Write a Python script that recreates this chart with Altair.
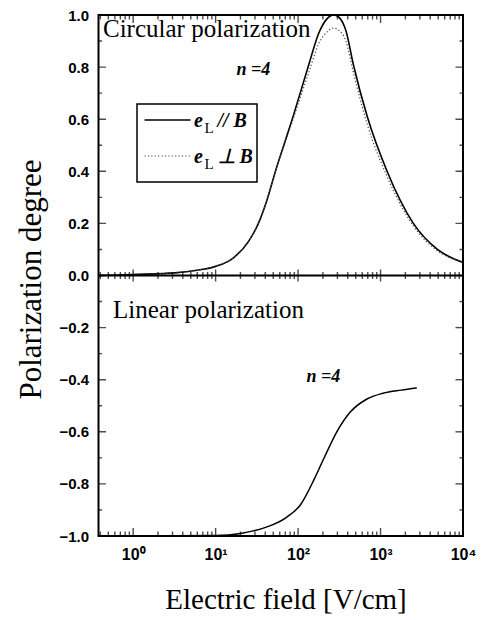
import altair as alt
import pandas as pd

# ---------------- data ----------------
x_min, x_max = 0.38, 10000

circ_E = [0.38, 1, 3.2, 6.5, 10, 16, 25, 33, 42, 52, 87, 135, 178, 224, 270,
          316, 380, 468, 690, 1200, 2500, 4900, 10000]
circ_par = [0.0, 0.004, 0.010, 0.022, 0.035, 0.065, 0.13, 0.20, 0.29, 0.39, 0.61,
            0.81, 0.93, 0.985, 1.0, 0.99, 0.94, 0.81, 0.61, 0.40, 0.20, 0.10, 0.05]
circ_perp = [0.0, 0.004, 0.010, 0.022, 0.035, 0.065, 0.13, 0.20, 0.29, 0.39, 0.60,
             0.78, 0.89, 0.935, 0.95, 0.94, 0.90, 0.78, 0.58, 0.38, 0.19, 0.095, 0.05]

lin_E = [1, 10, 20, 42, 71, 107, 158, 214, 295, 427, 676, 1070, 1780, 2750]
lin_P = [-1.0, -0.998, -0.99, -0.965, -0.93, -0.88, -0.78, -0.69, -0.60, -0.525,
         -0.475, -0.452, -0.44, -0.432]

x_major = [1, 10, 100, 1000, 10000]
x_labels = ["10⁰", "10¹", "10²", "10³", "10⁴"]
minor_mult = [2, 3, 4, 5, 6, 7, 8, 9]
decades = [0.1, 1, 10, 100, 1000]
x_minor = [round(m * d, 4) for d in decades for m in minor_mult if x_min <= m * d <= x_max]

y_major = [-1.0, -0.8, -0.6, -0.4, -0.2, 0.0, 0.2, 0.4, 0.6, 0.8, 1.0]
y_minor = [-0.9, -0.7, -0.5, -0.3, -0.1, 0.1, 0.3, 0.5, 0.7, 0.9]

title_circ = "Circular polarization"
title_lin = "Linear polarization"
n_label = "n =4"
legend_par = "// B"
legend_perp = "⊥ B"

# ---------------- layout ----------------
W, H = 364.5, 521
SERIF = "Liberation Serif"
SANS = "Liberation Sans"

xscale = alt.Scale(type="log", domain=[x_min, x_max], nice=False)
yscale = alt.Scale(domain=[-1, 1], nice=False)

label_expr = " : ".join(
    f"datum.value == {v} ? '{l}'" for v, l in zip(x_major, x_labels)
) + " : ''"

xaxis = alt.Axis(values=x_major, labelExpr=label_expr, grid=False, ticks=False,
                 domain=False, labelFont=SANS, labelFontSize=16, labelFontWeight="bold",
                 labelPadding=10, labelFlush=False, labelOverlap=False, labelColor="black",
                 title="Electric field [V/cm]", titleFont=SERIF, titleFontSize=29,
                 titleFontWeight="normal", titleColor="black", titleX=187, titleY=72,
                 titleAlign="center", titleBaseline="alphabetic", orient="bottom")
yaxis = alt.Axis(values=y_major, format=".1f", grid=False, ticks=False, domain=False,
                 labelFont=SANS, labelFontSize=15, labelFontWeight="bold",
                 labelPadding=10, labelColor="black", labelOverlap=False,
                 title="Polarization degree", titleFont=SERIF, titleFontSize=31,
                 titleFontWeight="normal", titleColor="black", titleAngle=270,
                 titleX=-58, titleY=264, titleAlign="center", titleBaseline="alphabetic",
                 orient="left")


def X(field):
    return alt.X(field, type="quantitative", scale=xscale, axis=xaxis)


def Y(field):
    return alt.Y(field, type="quantitative", scale=yscale, axis=yaxis)


df_c = pd.DataFrame({"E": circ_E, "par": circ_par, "perp": circ_perp})
df_l = pd.DataFrame({"E": lin_E, "P": lin_P})

solid = alt.Chart(df_c).mark_line(color="black", strokeWidth=1.6, interpolate="monotone",
                                  clip=True).encode(x=X("E"), y=Y("par"))
dotted = alt.Chart(df_c).mark_line(color="#444", strokeWidth=1.2, strokeDash=[1.2, 2.2],
                                   interpolate="monotone", clip=True).encode(
    x=X("E"), y=Y("perp"))
linear = alt.Chart(df_l).mark_line(color="black", strokeWidth=1.5, interpolate="monotone",
                                   clip=True).encode(x=X("E"), y=Y("P"))
zero = alt.Chart(pd.DataFrame({"y": [0.0]})).mark_rule(color="black", strokeWidth=2).encode(
    y=Y("y"))


def xticks(vals, at, length):
    df = pd.DataFrame({"E": vals, "at": [at] * len(vals)})
    return alt.Chart(df).mark_tick(
        orient="vertical", clip=True, color="black", thickness=1.4).encode(
        x=X("E"), y=Y("at"), size=alt.value(length))


def yticks(vals, at, length):
    df = pd.DataFrame({"v": vals, "at": [at] * len(vals)})
    return alt.Chart(df).mark_tick(
        orient="horizontal", clip=True, color="black", thickness=1.4).encode(
        y=Y("v"), x=X("at"), size=alt.value(length))


tick_layers = [
    xticks(x_major, 1.0, 16), xticks(x_minor, 1.0, 9),
    xticks(x_major, -1.0, 16), xticks(x_minor, -1.0, 9),
    xticks(x_major, 0.0, 12), xticks(x_minor, 0.0, 7),
    yticks(y_major, x_min, 15), yticks(y_minor, x_min, 7),
    yticks(y_major, x_max, 15), yticks(y_minor, x_max, 7),
]


def text(t, x, y, size, font=SERIF, weight="normal", style="normal"):
    return alt.Chart(pd.DataFrame({"t": [t]})).mark_text(
        align="left", baseline="alphabetic", font=font, fontSize=size,
        fontWeight=weight, fontStyle=style, color="black").encode(
        text="t:N", x=alt.value(x), y=alt.value(y))


one = pd.DataFrame({"k": [0]})
legend_box = alt.Chart(one).mark_rect(fill="white", stroke="black", strokeWidth=1.5).encode(
    x=alt.value(38.5), x2=alt.value(158.5), y=alt.value(89), y2=alt.value(167))
leg_solid = alt.Chart(one).mark_rule(color="black", strokeWidth=1.5).encode(
    x=alt.value(46), x2=alt.value(92), y=alt.value(105))
leg_dot = alt.Chart(one).mark_rule(color="#444", strokeWidth=1.2, strokeDash=[1.2, 2.2]).encode(
    x=alt.value(46), x2=alt.value(92), y=alt.value(141))

annotations = [
    text(title_circ, 4.5, 22, 25),
    text(n_label, 138, 60, 18, weight="bold", style="italic"),
    text(title_lin, 14.5, 303, 25),
    text(n_label, 208, 367, 18, weight="bold", style="italic"),
    legend_box, leg_solid, leg_dot,
    text("e", 95.5, 112, 20, weight="bold", style="italic"),
    text("L", 106, 118, 15),
    text(legend_par, 119, 112, 20, weight="bold", style="italic"),
    text("e", 95.5, 148, 20, weight="bold", style="italic"),
    text("L", 106, 154, 15),
    text(legend_perp, 119, 148, 20, weight="bold", style="italic"),
]

chart = alt.layer(solid, dotted, linear, zero, *tick_layers, *annotations).properties(
    width=W, height=H,
    autosize=alt.AutoSizeParams(type="none"),
    padding={"left": 90.5, "top": 7, "right": 15, "bottom": 80},
    background="white",
).configure_view(stroke="black", strokeWidth=2)

chart.save("out.html", embed_options={"renderer": "svg", "actions": False})
